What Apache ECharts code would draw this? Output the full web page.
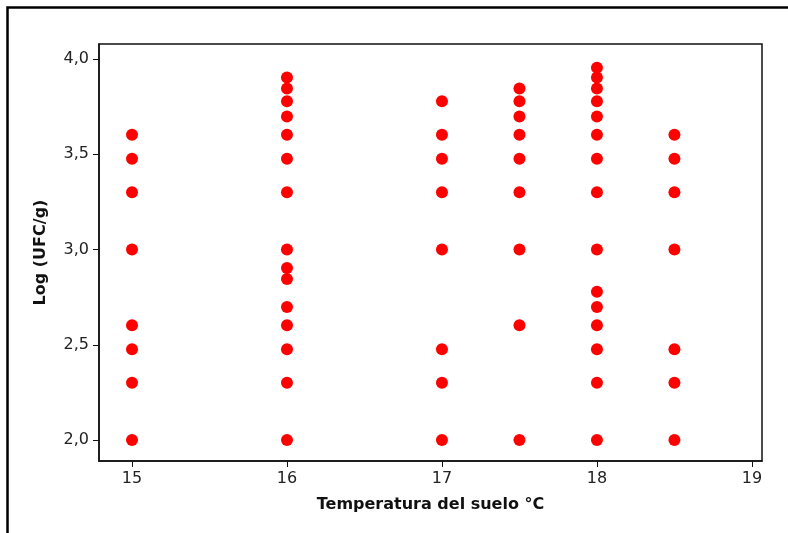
<!DOCTYPE html>
<html lang="es">
<head>
    <meta charset="UTF-8">
    <title>Temperatura del suelo</title>
    <script src="https://cdn.jsdelivr.net/npm/echarts@6.0.0/dist/echarts.min.js"></script>
    <style>
        html, body { margin: 0; padding: 0; background: #fff; }
    </style>
</head>
<body>
    <div id="chart" style="width: 788px; height: 533px;"></div>
    <script>
        // temperatura del suelo (°C) para cada columna de puntos
        const temps = [15, 16, 17, 17.5, 18, 18.5]

        const logT15 = [2.0, 2.301, 2.477, 2.602, 3.0, 3.301, 3.477, 3.602]
        const logT16 = [2.0, 2.301, 2.477, 2.602, 2.699, 2.845, 2.903, 3.0, 3.301, 3.477, 3.602, 3.699, 3.778, 3.845, 3.903]
        const logT17 = [2.0, 2.301, 2.477, 3.0, 3.301, 3.477, 3.602, 3.778]
        const logT175 = [2.0, 2.602, 3.0, 3.301, 3.477, 3.602, 3.699, 3.778, 3.845]
        const logT18 = [2.0, 2.301, 2.477, 2.602, 2.699, 2.778, 3.0, 3.301, 3.477, 3.602, 3.699, 3.778, 3.845, 3.903, 3.954]
        const logT185 = [2.0, 2.301, 2.477, 3.0, 3.301, 3.477, 3.602]

        const xTicks = [15, 16, 17, 18, 19]
        const yTicks = [2.0, 2.5, 3.0, 3.5, 4.0]

        const columns = [logT15, logT16, logT17, logT175, logT18, logT185]
        const points = []
        columns.forEach((col, i) => {
            col.forEach(v => points.push([temps[i], v]))
        })

        const font = 'DejaVu Sans'
        const chart = echarts.init(document.getElementById('chart'))

        const option = {
            animation: false,
            grid: {
                left: 99,
                top: 44,
                right: 26,
                bottom: 72,
                show: true,
                borderColor: '#111',
                borderWidth: 1.5
            },
            xAxis: {
                type: 'value',
                min: 14.787,
                max: 19.065,
                name: 'Temperatura del suelo °C',
                nameLocation: 'middle',
                nameGap: 36,
                nameTextStyle: { fontFamily: font, fontSize: 16, fontWeight: 'bold', color: '#111' },
                splitLine: { show: false },
                axisLine: { lineStyle: { color: '#111', width: 1.5 } },
                axisTick: { customValues: xTicks, length: 6, lineStyle: { color: '#111' } },
                axisLabel: {
                    customValues: xTicks,
                    fontFamily: font, fontSize: 16, color: '#222', margin: 10
                }
            },
            yAxis: {
                type: 'value',
                min: 1.89,
                max: 4.079,
                name: 'Log (UFC/g)',
                nameLocation: 'middle',
                nameGap: 50,
                nameTextStyle: { fontFamily: font, fontSize: 16, fontWeight: 'bold', color: '#111' },
                splitLine: { show: false },
                axisLine: { show: true, lineStyle: { color: '#111', width: 1.5 } },
                axisTick: { show: true, customValues: yTicks, length: 6, lineStyle: { color: '#111' } },
                axisLabel: {
                    customValues: yTicks,
                    fontFamily: font, fontSize: 16, color: '#222', margin: 10,
                    formatter: v => v.toFixed(1).replace('.', ',')
                }
            },
            series: [{
                type: 'scatter',
                data: points,
                symbolSize: 12,
                itemStyle: { color: '#ff0000', opacity: 1 }
            }],
            graphic: [
                {
                    type: 'polyline',
                    shape: { points: [[7.5, 533], [7.5, 7.5], [788, 7.5]] },
                    style: { stroke: '#000', lineWidth: 2.5, fill: null }
                }
            ]
        }

        chart.setOption(option)
    </script>
</body>
</html>
